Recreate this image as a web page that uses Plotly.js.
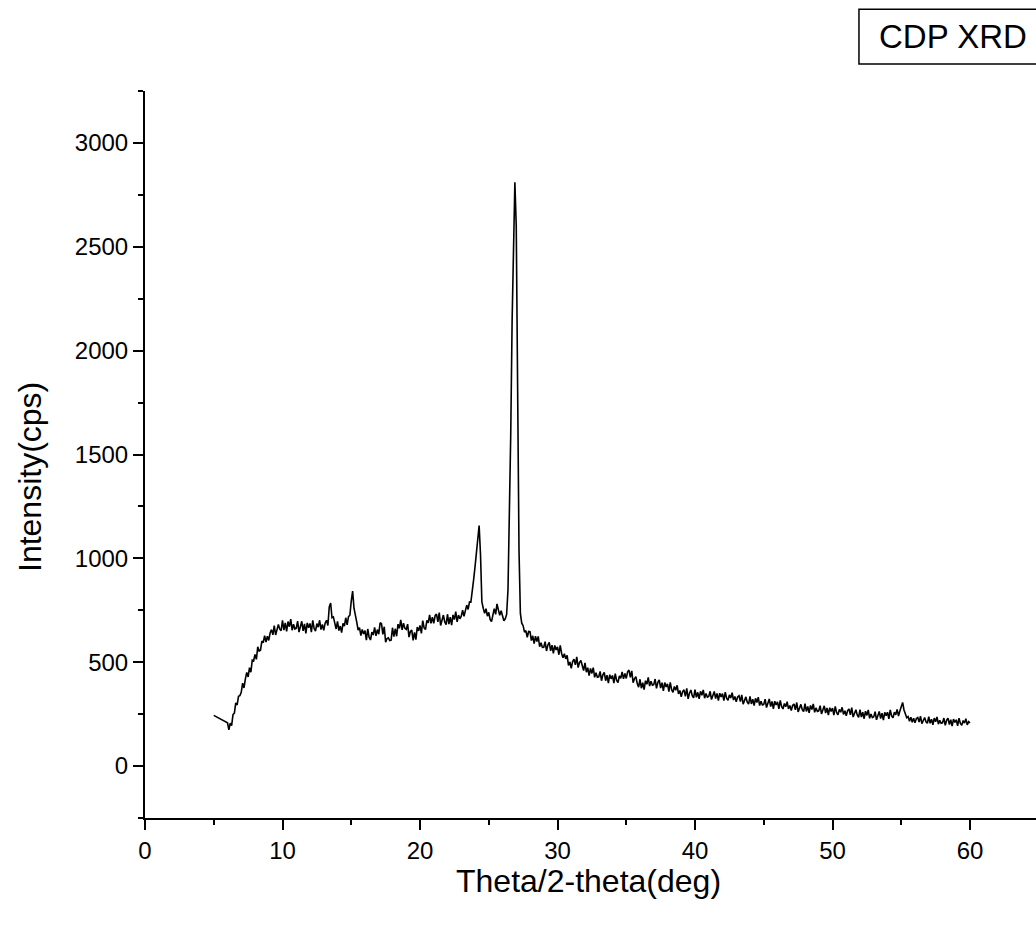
<!DOCTYPE html>
<html>
<head>
<meta charset="utf-8">
<script src="https://cdn.plot.ly/plotly-3.0.1.min.js"></script>
<style>html,body{margin:0;padding:0;background:#fff;}#chart{width:1036px;height:926px;}</style>
</head>
<body>
<div id="chart"></div>
<script>
// Lead-in segment of the scan (before the regular grid)
const leadTwoTheta = [5.0];
const leadIntensity = [244];

// Regular scan grid: 6.0 to 60.0 deg, step 0.1 deg
const scanStart = 6.0;
const scanStep = 0.1;

// Intensity (cps), one row per degree (x.0 ... x.9)
const intensity = [
  208,174,207,195,248,255,304,294,336,339,      // 6
  355,399,376,420,451,429,474,452,510,507,      // 7
  537,514,574,554,558,602,594,628,597,625,      // 8
  605,641,657,632,676,631,663,682,659,652,      // 9
  701,655,689,648,696,671,707,654,683,660,      // 10
  664,698,645,681,697,651,684,639,689,666,      // 11
  687,645,702,662,650,686,669,702,657,682,      // 12
  654,688,702,677,766,785,714,718,681,660,      // 13
  697,652,674,643,687,674,714,680,719,726,      // 14
  794,842,760,714,693,655,667,628,658,636,      // 15
  652,606,660,620,607,645,631,668,627,657,      // 16
  635,690,685,634,671,596,614,617,604,606,      // 17
  666,623,661,625,683,663,704,656,688,663,      // 18
  658,683,621,648,655,605,644,609,669,651,      // 19
  677,639,700,665,657,701,690,728,687,717,      // 20
  687,724,732,694,739,677,709,727,694,681,      // 21
  731,683,717,678,728,705,744,694,727,709,      // 22
  722,750,721,754,775,754,790,789,863,898,      // 23
  958,1035,1108,1158,1020,790,760,735,758,722,  // 24
  740,706,695,727,758,730,781,752,726,748,      // 25
  718,700,709,730,850,1150,1600,2150,2600,2810, // 26
  2600,1845,1040,735,688,676,645,652,620,648,   // 27
  647,604,627,589,625,599,624,575,594,571,      // 28
  572,599,554,583,595,555,582,542,581,559,      // 29
  574,536,581,542,521,541,516,533,485,501,      // 30
  471,503,515,487,526,474,498,508,476,460,      // 31
  497,452,474,435,470,446,474,427,449,428,      // 32
  430,456,411,439,451,411,438,399,440,420,      // 33
  436,399,445,412,402,434,422,453,420,446,      // 34
  422,454,462,427,458,401,421,430,397,380,      // 35
  418,375,401,368,411,394,427,385,408,389,      // 36
  392,419,374,403,415,375,402,362,402,381,      // 37
  396,358,403,368,355,383,365,389,347,364,      // 38
  333,359,367,336,374,324,351,366,339,328,      // 39
  368,331,355,324,360,341,367,327,349,332,      // 40
  335,360,320,347,359,325,350,315,351,333,      // 41
  349,315,356,327,316,343,328,353,318,335,      // 42
  309,333,339,310,343,298,321,333,308,298,      // 43
  336,299,322,291,326,306,332,291,312,294,      // 44
  297,322,282,309,323,286,311,276,312,294,      // 45
  309,275,316,286,275,301,286,310,275,292,      // 46
  267,292,299,271,306,261,285,297,272,262,      // 47
  300,263,287,256,292,272,299,259,280,263,      // 48
  266,291,251,278,290,255,280,245,281,263,      // 49
  279,245,287,257,247,273,259,283,249,266,      // 50
  242,267,275,247,281,236,259,271,246,235,      // 51
  272,236,259,228,264,244,270,230,251,233,      // 52
  237,262,223,250,263,229,255,221,259,243,      // 53
  259,227,270,241,232,260,247,273,241,265,      // 54
  288,306,270,255,233,238,216,235,211,230,      // 55
  208,229,234,212,240,204,223,234,213,206,      // 56
  238,206,226,199,231,213,237,202,220,206,      // 57
  208,231,196,221,231,200,223,192,226,210,      // 58
  223,194,231,205,196,219,207,228,198,214,      // 59
  208                                           // 60
];

const xTickVals = [0, 10, 20, 30, 40, 50, 60];
const yTickVals = [0, 500, 1000, 1500, 2000, 2500, 3000];
const legendLabel = "CDP XRD";
const xTitle = "Theta/2-theta(deg)";
const yTitle = "Intensity(cps)";

const twoTheta = leadTwoTheta.concat(intensity.map((_, i) => +(scanStart + i * scanStep).toFixed(2)));
const counts = leadIntensity.concat(intensity);

const FONT = "Liberation Sans, Arial, sans-serif";

const trace = {
  x: twoTheta,
  y: counts,
  type: "scatter",
  mode: "lines",
  line: {color: "#000", width: 1.6},
  showlegend: false,
  hoverinfo: "skip"
};

const axisCommon = {
  showline: true, linecolor: "#000", linewidth: 2,
  ticks: "outside", ticklen: 10, tickwidth: 2, tickcolor: "#000",
  showgrid: false, zeroline: false,
  tickfont: {family: FONT, size: 24, color: "#000"},
  automargin: false
};

const layout = {
  width: 1036, height: 926,
  margin: {l: 145, r: 0, t: 91, b: 108},
  paper_bgcolor: "#fff", plot_bgcolor: "#fff",
  xaxis: Object.assign({}, axisCommon, {
    range: [0, 64.8],
    tickmode: "array", tickvals: xTickVals, ticktext: xTickVals.map(String),
    minor: {dtick: 5, ticks: "outside", ticklen: 5, tickwidth: 2, tickcolor: "#000"}
  }),
  yaxis: Object.assign({}, axisCommon, {
    range: [-250, 3250],
    tickmode: "array", tickvals: yTickVals, ticktext: yTickVals.map(String),
    minor: {dtick: 250, tick0: 0, ticks: "outside", ticklen: 5, tickwidth: 2, tickcolor: "#000"}
  }),
  shapes: [{
    type: "rect", xref: "paper", yref: "paper",
    x0: 0.8013, x1: 1.02, y0: 1.0371, y1: 1.1124,
    line: {color: "#000", width: 1.5}, fillcolor: "rgba(0,0,0,0)"
  }],
  annotations: [
    {
      text: legendLabel, xref: "paper", yref: "paper",
      x: 0.8215, y: 1.0743, xanchor: "left", yanchor: "middle",
      showarrow: false, font: {family: FONT, size: 33, color: "#000"}
    },
    {
      text: xTitle, xref: "paper", yref: "paper",
      x: 0.4972, y: -0.087, xanchor: "center", yanchor: "middle",
      showarrow: false, font: {family: FONT, size: 32, color: "#000"}
    },
    {
      text: yTitle, xref: "paper", yref: "paper",
      x: -0.1291, y: 0.469, xanchor: "center", yanchor: "middle",
      textangle: -90,
      showarrow: false, font: {family: FONT, size: 32, color: "#000"}
    }
  ]
};

Plotly.newPlot("chart", [trace], layout, {staticPlot: true, displayModeBar: false});
</script>
</body>
</html>
